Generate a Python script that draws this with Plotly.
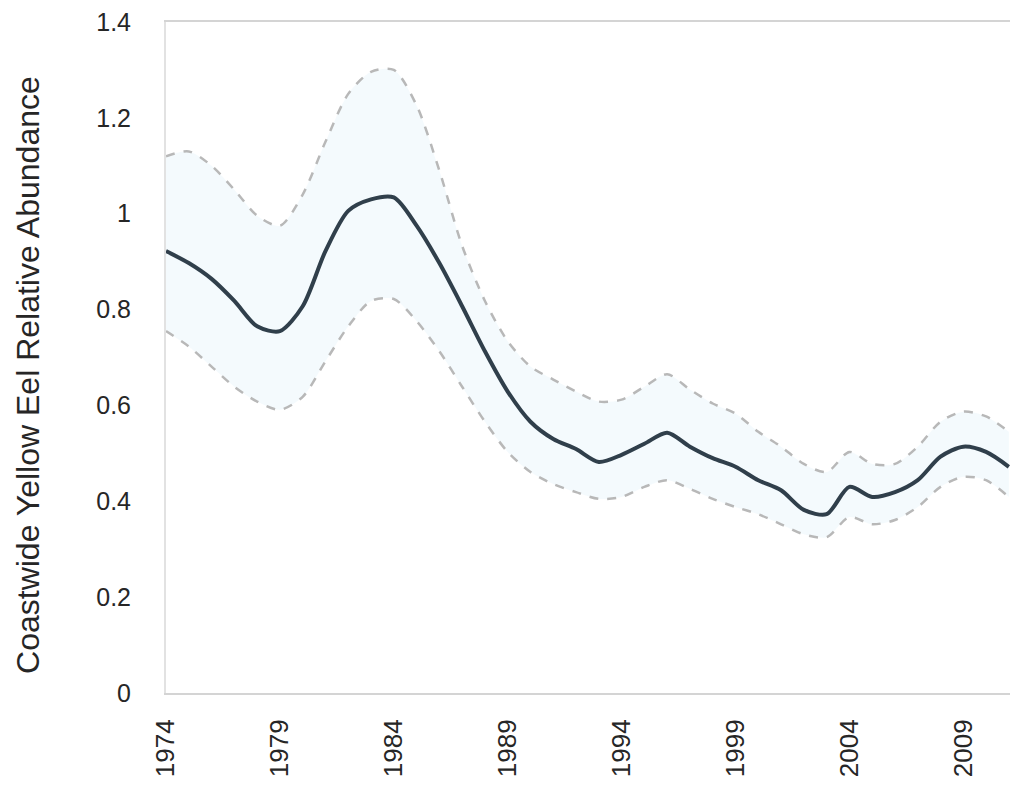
import plotly.graph_objects as go

years = list(range(1974, 2012))
index = [0.922, 0.897, 0.864, 0.818, 0.765, 0.755, 0.807, 0.922, 1.006, 1.030,
         1.034, 0.975, 0.897, 0.807, 0.713, 0.629, 0.566, 0.530, 0.509, 0.482,
         0.497, 0.520, 0.543, 0.514, 0.490, 0.472, 0.444, 0.423, 0.382, 0.373,
         0.430, 0.409, 0.419, 0.444, 0.493, 0.514, 0.503, 0.472]
upper = [1.120, 1.130, 1.100, 1.050, 0.996, 0.975, 1.040, 1.150, 1.250, 1.296,
         1.300, 1.226, 1.090, 0.933, 0.818, 0.734, 0.681, 0.654, 0.629, 0.608,
         0.612, 0.639, 0.665, 0.633, 0.604, 0.583, 0.545, 0.514, 0.478, 0.461,
         0.503, 0.478, 0.478, 0.514, 0.566, 0.587, 0.577, 0.545]
lower = [0.755, 0.723, 0.681, 0.639, 0.608, 0.591, 0.618, 0.692, 0.765, 0.818,
         0.822, 0.776, 0.713, 0.639, 0.566, 0.503, 0.461, 0.436, 0.419, 0.405,
         0.409, 0.430, 0.444, 0.426, 0.405, 0.388, 0.373, 0.352, 0.331, 0.325,
         0.367, 0.352, 0.361, 0.388, 0.430, 0.451, 0.444, 0.409]
tick_years = [1974, 1979, 1984, 1989, 1994, 1999, 2004, 2009]
tick_labels = [str(y) for y in tick_years]
y_tickvals = [0, 0.2, 0.4, 0.6, 0.8, 1.0, 1.2, 1.4]
y_ticktext = ["0", "0.2", "0.4", "0.6", "0.8", "1", "1.2", "1.4"]
y_title = "Coastwide Yellow Eel Relative Abundance"

FONT = "Liberation Sans, Arial, sans-serif"
TXT = "#262626"

fig = go.Figure()
fig.add_trace(go.Scatter(x=years, y=upper, mode="lines",
                         line=dict(color="#b8b8b8", width=2.5, dash="dash", shape="spline", smoothing=0.8),
                         hoverinfo="skip", showlegend=False))
fig.add_trace(go.Scatter(x=years, y=lower, mode="lines",
                         line=dict(color="#b8b8b8", width=2.5, dash="dash", shape="spline", smoothing=0.8),
                         fill="tonexty", fillcolor="rgba(220,240,250,0.3)",
                         hoverinfo="skip", showlegend=False))
fig.add_trace(go.Scatter(x=years, y=index, mode="lines",
                         line=dict(color="#303f4b", width=4, shape="spline", smoothing=0.8),
                         showlegend=False))

fig.update_layout(
    width=1010, height=788,
    margin=dict(l=166, r=0, t=22, b=95, autoexpand=False),
    paper_bgcolor="white", plot_bgcolor="white",
    font=dict(family=FONT, color=TXT, size=26),
    annotations=[dict(text=y_title, xref="paper", yref="paper", x=-0.1635, y=0.474,
                      xanchor="center", yanchor="middle", textangle=-90, showarrow=False,
                      font=dict(family=FONT, size=32, color=TXT))],
)
fig.update_xaxes(range=[1974, 2011.05], tickmode="array", tickvals=tick_years, ticktext=tick_labels,
                 tickangle=-90, showgrid=False, zeroline=False,
                 showline=True, linecolor="#d4d4d4", linewidth=2, mirror=True,
                 ticks="outside", ticklen=14, tickcolor="rgba(0,0,0,0)",
                 tickfont=dict(size=26, color=TXT))
fig.update_yaxes(range=[0, 1.4], tickvals=y_tickvals, ticktext=y_ticktext,
                 showgrid=False, zeroline=False,
                 showline=True, linecolor="#e2e2e2", linewidth=2,
                 ticks="outside", ticklen=28, tickcolor="rgba(0,0,0,0)",
                 tickfont=dict(size=25, color=TXT))

fig.write_html("out.html", config={"displayModeBar": False},
               post_script="document.body.style.margin='0';document.body.style.overflow='hidden';")
